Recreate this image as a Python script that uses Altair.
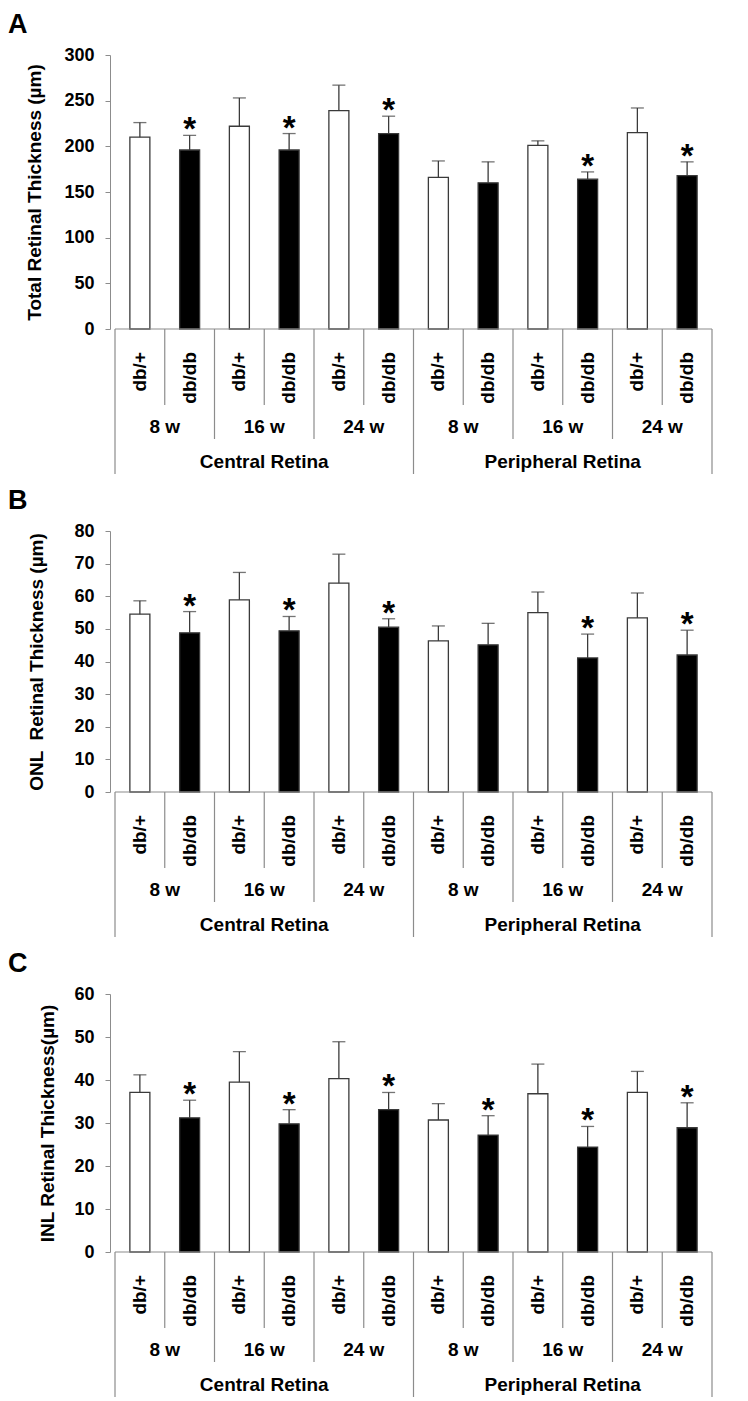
import altair as alt
import pandas as pd

# ---- categories ----
genotype = ["db/+", "db/db"] * 6
age_groups = ["8 w", "16 w", "24 w", "8 w", "16 w", "24 w"]
regions = ["Central Retina", "Peripheral Retina"]

# ---- panel A: total retinal thickness ----
total_mean = [210, 196, 222, 196, 239, 214, 166, 160, 201, 164, 215, 168]
total_err = [16, 16, 31, 18, 28, 19, 18, 23, 5, 8, 27, 15]
total_sig = [0, 1, 0, 1, 0, 1, 0, 0, 0, 1, 0, 1]

# ---- panel B: ONL thickness ----
onl_mean = [54.5, 48.8, 58.9, 49.4, 64.0, 50.5, 46.3, 45.1, 55.0, 41.1, 53.4, 42.0]
onl_err = [4.1, 6.5, 8.4, 4.4, 8.9, 2.6, 4.6, 6.6, 6.3, 7.3, 7.6, 7.6]
onl_sig = [0, 1, 0, 1, 0, 1, 0, 0, 0, 1, 0, 1]

# ---- panel C: INL thickness ----
inl_mean = [37.1, 31.2, 39.5, 29.8, 40.3, 33.1, 30.7, 27.2, 36.8, 24.4, 37.1, 28.9]
inl_err = [4.1, 4.1, 7.1, 3.3, 8.6, 4.0, 3.8, 4.5, 6.9, 4.8, 4.9, 5.8]
inl_sig = [0, 1, 0, 1, 0, 1, 0, 1, 0, 1, 0, 1]

FONT = "Liberation Sans"
GREY = "#8c8c8c"
DARK = "#3a3a3a"
W = 607


def panel(letter, ytitle, means, errs, sigs, ymax, step, h, tpad):
    n = len(means)
    df = pd.DataFrame({
        "slot": [i + 0.5 for i in range(n)],
        "genotype": genotype,
        "mean": means,
        "top": [m + e for m, e in zip(means, errs)],
        "sig": ["*" if s else "" for s in sigs],
    })
    xs = alt.Scale(domain=[0, n], nice=False, zero=False)
    ys = alt.Scale(domain=[0, ymax], nice=False)
    yaxis = alt.Axis(
        values=list(range(0, ymax + 1, step)), grid=False, tickSize=5,
        tickColor=GREY, domainColor=GREY, labelFont=FONT, labelFontSize=18,
        labelFontWeight="bold", labelColor="black", labelPadding=11,
        labelOverlap=False,
        title=ytitle, titleFont=FONT, titleFontSize=19, titleFontWeight="bold",
        titleColor="black", titlePadding=tpad,
    )

    def yenc(field):
        return alt.Y(field, type="quantitative", scale=ys, axis=yaxis)

    def xenc(field):
        return alt.X(field, type="quantitative", scale=xs, axis=None)

    bars = alt.Chart(df).mark_bar(size=20, stroke=DARK, strokeWidth=1.3).encode(
        x=xenc("slot"),
        y=yenc("mean"),
        fill=alt.Fill("genotype:N", scale=alt.Scale(domain=["db/+", "db/db"], range=["white", "black"]), legend=None),
    )
    err = alt.Chart(df).mark_rule(color=DARK, strokeWidth=1.3).encode(
        x=xenc("slot"),
        y=yenc("mean"),
        y2="top:Q",
    )
    cap = alt.Chart(df).mark_tick(orient="horizontal", size=13, thickness=1.3, color=DARK).encode(
        x=xenc("slot"),
        y=yenc("top"),
    )
    star = alt.Chart(df).mark_text(font=FONT, fontSize=33, fontWeight="bold", baseline="alphabetic", dy=5, color="black").encode(
        x=xenc("slot"),
        y=yenc("top"),
        text="sig:N",
    )

    base_df = pd.DataFrame({"a": [0], "b": [n]})
    baseline = alt.Chart(base_df).mark_rule(color=GREY, strokeWidth=1.2).encode(
        x=xenc("a"), x2="b:Q", y=alt.value(h)
    )

    def dividers(positions, length):
        d = pd.DataFrame({"p": positions})
        return alt.Chart(d).mark_rule(color=GREY, strokeWidth=1.2).encode(
            x=xenc("p"), y=alt.value(h), y2=alt.value(h + length)
        )

    short_div = dividers([1, 3, 5, 7, 9, 11], 76)
    mid_div = dividers([2, 4, 8, 10], 110)
    long_div = dividers([0, 6, 12], 145)

    geno_lbl = alt.Chart(df).mark_text(font=FONT, fontSize=19, fontWeight="bold", angle=270, align="right", baseline="middle", color="black").encode(
        x=xenc("slot"), y=alt.value(h + 23), text="genotype:N"
    )
    age_df = pd.DataFrame({"c": [2 * i + 1 for i in range(len(age_groups))], "lbl": age_groups})
    age_lbl = alt.Chart(age_df).mark_text(font=FONT, fontSize=19, fontWeight="bold", baseline="middle", color="black").encode(
        x=xenc("c"), y=alt.value(h + 98), text="lbl:N"
    )
    reg_df = pd.DataFrame({"c": [3, 9], "lbl": regions})
    reg_lbl = alt.Chart(reg_df).mark_text(font=FONT, fontSize=19, fontWeight="bold", baseline="middle", color="black").encode(
        x=xenc("c"), y=alt.value(h + 133), text="lbl:N"
    )
    let_df = pd.DataFrame({"t": [letter]})
    let_lbl = alt.Chart(let_df).mark_text(font=FONT, fontSize=27, fontWeight="bold", align="left", baseline="alphabetic", color="black").encode(
        x=alt.value(-102), y=alt.value(-22), text="t:N"
    )

    return alt.layer(
        bars, err, cap, star, baseline, short_div, mid_div, long_div,
        geno_lbl, age_lbl, reg_lbl, let_lbl,
    ).properties(width=W, height=h)


pa = panel("A", "Total Retinal Thickness (µm)", total_mean, total_err, total_sig, 300, 50, 274, 19)
pb = panel("B", "ONL \u00a0Retinal Thickness (µm)", onl_mean, onl_err, onl_sig, 80, 10, 261, 27)
pc = panel("C", "INL Retinal Thickness(µm)", inl_mean, inl_err, inl_sig, 60, 10, 258, 16)

chart = alt.vconcat(pa, pb, pc, spacing=12).properties(
    padding={"left": 0, "top": 3, "right": 0, "bottom": 0}
).configure_view(stroke=None)

chart.save("out.html", embed_options={"renderer": "svg", "actions": False})
